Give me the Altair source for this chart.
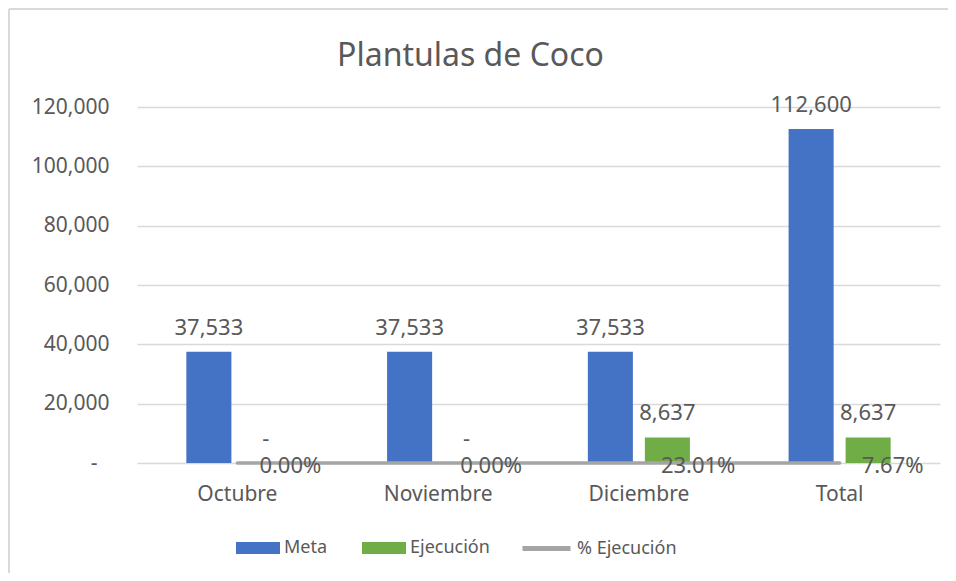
import altair as alt
import pandas as pd

categories = ["Octubre", "Noviembre", "Diciembre", "Total"]
meta = [37533, 37533, 37533, 112600]
ejecucion = [0, 0, 8637, 8637]
pct_ejecucion = [0.0, 0.0, 0.2301, 0.0767]

bar_series = ["Meta", "Ejecución"]
bar_colors = ["#4472C4", "#70AD47"]
line_series = ["% Ejecución"]
line_colors = ["#A5A5A5"]
FONT = "Noto Sans"
TXT = "#595959"

bars = pd.DataFrame(
    [{"cat": c, "serie": "Meta", "v": v} for c, v in zip(categories, meta)]
    + [{"cat": c, "serie": "Ejecución", "v": v} for c, v in zip(categories, ejecucion)]
)
line = pd.DataFrame({"cat": categories, "serie": "% Ejecución", "v": pct_ejecucion})

x_enc = alt.X("cat:N", sort=categories, title=None,
              scale=alt.Scale(paddingInner=0.432, paddingOuter=0.216),
              axis=alt.Axis(domain=False, ticks=False, labelFontSize=21, labelColor=TXT,
                            labelFont=FONT, labelPadding=20, labelAngle=0, grid=False))
xoff = alt.XOffset("serie:N", sort=bar_series,
                   scale=alt.Scale(paddingInner=0.21, paddingOuter=0.105))
y_enc = alt.Y("v:Q", title=None,
              scale=alt.Scale(domain=[0, 120000], nice=False),
              axis=alt.Axis(values=[0, 20000, 40000, 60000, 80000, 100000, 120000],
                            labelExpr="datum.value == 0 ? '-' : format(datum.value, ',')",
                            domain=False, ticks=False, labelFontSize=21, labelColor=TXT,
                            labelFont=FONT,
                            labelPadding={"condition": {"test": "datum.value === 0", "value": 40}, "value": 28},
                            gridColor="#D9D9D9", gridWidth=1.5))

bar_layer = alt.Chart(bars).mark_bar().encode(
    x=x_enc, xOffset=xoff, y=y_enc,
    color=alt.Color("serie:N", scale=alt.Scale(domain=bar_series, range=bar_colors),
                    legend=alt.Legend(orient="none", legendX=99, legendY=419,
                                      direction="horizontal", title=None,
                                      symbolType="M-1,-0.27H1V0.27H-1Z", symbolSize=1936,
                                      labelFontSize=18, labelColor=TXT, labelFont=FONT,
                                      columnPadding=34, labelOffset=4, symbolStrokeWidth=0))
)

bar_text = alt.Chart(bars).transform_calculate(
    lbl="datum.v == 0 ? '-' : format(datum.v, ',')"
).mark_text(baseline="middle", dy=-24, fontSize=22, font=FONT, color=TXT).encode(
    x=alt.X("cat:N", sort=categories), xOffset=xoff, y="v:Q", text="lbl:N"
)

line_layer = alt.Chart(line).mark_line(strokeWidth=3.5, strokeCap="round").encode(
    x=alt.X("cat:N", sort=categories), y="v:Q",
    stroke=alt.Stroke("serie:N", scale=alt.Scale(domain=line_series, range=line_colors),
                      legend=alt.Legend(orient="none", legendX=383, legendY=415,
                                        direction="horizontal", title=None,
                                        symbolType="stroke", symbolSize=2304,
                                        symbolStrokeWidth=5,
                                        labelFontSize=18, labelColor=TXT, labelFont=FONT,
                                        labelOffset=4))
)

line_text = alt.Chart(line).transform_calculate(
    lbl="format(datum.v, '.2%')"
).mark_text(align="left", baseline="middle", dx=22, dy=3, fontSize=22, font=FONT, color=TXT).encode(
    x=alt.X("cat:N", sort=categories), y="v:Q", text="lbl:N"
)

border = pd.DataFrame({"k": [1]})
left_border = alt.Chart(border).mark_rule(color="#D9D9D9", strokeWidth=2).encode(
    x=alt.value(-128), y=alt.value(-98), y2=alt.value(480))
top_border = alt.Chart(border).mark_rule(color="#D9D9D9", strokeWidth=2).encode(
    x=alt.value(-128), x2=alt.value(820), y=alt.value(-98))

chart = alt.layer(left_border, top_border, bar_layer, line_layer, bar_text, line_text).properties(
    width=803, height=356,
    title=alt.TitleParams("Plantulas de Coco", fontSize=32, font=FONT, color=TXT,
                          fontWeight="normal", anchor="middle", dx=-68, offset=0,
                          baseline="middle", dy=80),
    autosize=alt.AutoSizeParams(type="none"),
    padding={"left": 129, "top": 99, "right": 8, "bottom": 110},
).configure_view(stroke=None)

chart.save("out.html", embed_options={"renderer": "svg", "actions": False})
